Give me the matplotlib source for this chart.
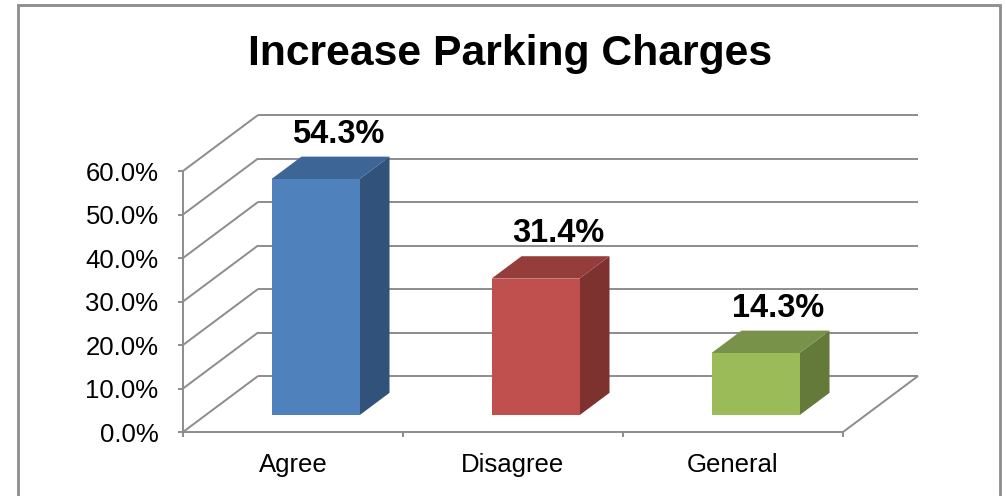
import matplotlib
matplotlib.use("Agg")
from matplotlib import pyplot as plt
from matplotlib.patches import Polygon, Rectangle

plt.rcParams['font.family'] = ['Liberation Sans', 'DejaVu Sans']

categories = ["Agree", "Disagree", "General"]
values = [54.3, 31.4, 14.3]
front_colors = ["#4F81BD", "#C0504D", "#9BBB59"]
top_colors = ["#3D6596", "#943D3A", "#789349"]
side_colors = ["#31527B", "#7D3230", "#637A3B"]
y_ticks = [0, 10, 20, 30, 40, 50, 60]

# oblique depth of the 3d box, in data units
dx, dy = 0.341, 12.87
bar_half = 0.2
d0, d1 = 0.3, 0.7  # bar front / back depth fraction

fig = plt.figure(figsize=(10.06, 4.96), dpi=100)
ax = fig.add_axes([0, 0, 1, 1])
ax.set_xlim(-1.3318, 3.2409)
ax.set_ylim(-14.71, 99.31)
ax.patch.set_alpha(0)

grid = dict(color="#8c8c8c", lw=1.4, zorder=1, solid_capstyle="butt")
xl, xr = -0.5, len(categories) - 0.5
for t in y_ticks:
    ax.plot([xl, xl + dx], [t, t + dy], **grid)
    ax.plot([xl + dx, xr + dx], [t + dy, t + dy], **grid)
ax.plot([xr, xr + dx], [0, dy], **grid)

for i, v in enumerate(values):
    x0 = i - bar_half + d0 * dx
    x1 = i + bar_half + d0 * dx
    y0 = d0 * dy
    ox, oy = (d1 - d0) * dx, (d1 - d0) * dy
    ax.add_patch(Polygon([(x1, y0), (x1 + ox, y0 + oy), (x1 + ox, y0 + oy + v), (x1, y0 + v)],
                         closed=True, fc=side_colors[i], ec="none", zorder=3))
    ax.add_patch(Polygon([(x0, y0 + v), (x1, y0 + v), (x1 + ox, y0 + v + oy), (x0 + ox, y0 + v + oy)],
                         closed=True, fc=top_colors[i], ec="none", zorder=3))
    ax.add_patch(Rectangle((x0, y0), x1 - x0, v, fc=front_colors[i], ec="none", zorder=4))
    ax.text(i + 0.6 * dx, v + 1.1 * dy, f"{v:.1f}%", ha="center", va="center",
            fontsize=23.5, fontweight="bold", zorder=5)

for s in ["top", "right"]:
    ax.spines[s].set_visible(False)
ax.spines["left"].set_position(("data", xl))
ax.spines["left"].set_bounds(0, 60)
ax.spines["bottom"].set_position(("data", 0))
ax.spines["bottom"].set_bounds(xl, xr)
for s in ["left", "bottom"]:
    ax.spines[s].set_color("#8c8c8c")
    ax.spines[s].set_linewidth(1.4)
    ax.spines[s].set_zorder(2)

ax.set_yticks(y_ticks)
ax.set_yticklabels([f"{t:.1f}%" for t in y_ticks])
ax.tick_params(axis="y", direction="out", length=3.6, width=1.4, color="#8c8c8c",
               pad=14, labelsize=18.5)
ax.set_xticks([xl + k for k in range(len(categories) + 1)])
ax.set_xticklabels([])
ax.set_xticks(range(len(categories)), minor=True)
ax.set_xticklabels(categories, minor=True)
ax.tick_params(axis="x", which="major", direction="out", length=3.6, width=1.4, color="#8c8c8c")
ax.tick_params(axis="x", which="minor", length=0, pad=15, labelsize=18.5)

fig.text(0.507, 1 - 54 / 496, "Increase Parking Charges", ha="center", va="center",
         fontsize=30.7, fontweight="bold")

fig.patches.append(Rectangle((17.5 / 1006, -0.1), (1000 - 17.5) / 1006, 1.1 - 4.5 / 496,
                             transform=fig.transFigure, fill=False, ec="#8c8c8c", lw=2))

fig.savefig("out.png", dpi=100)
